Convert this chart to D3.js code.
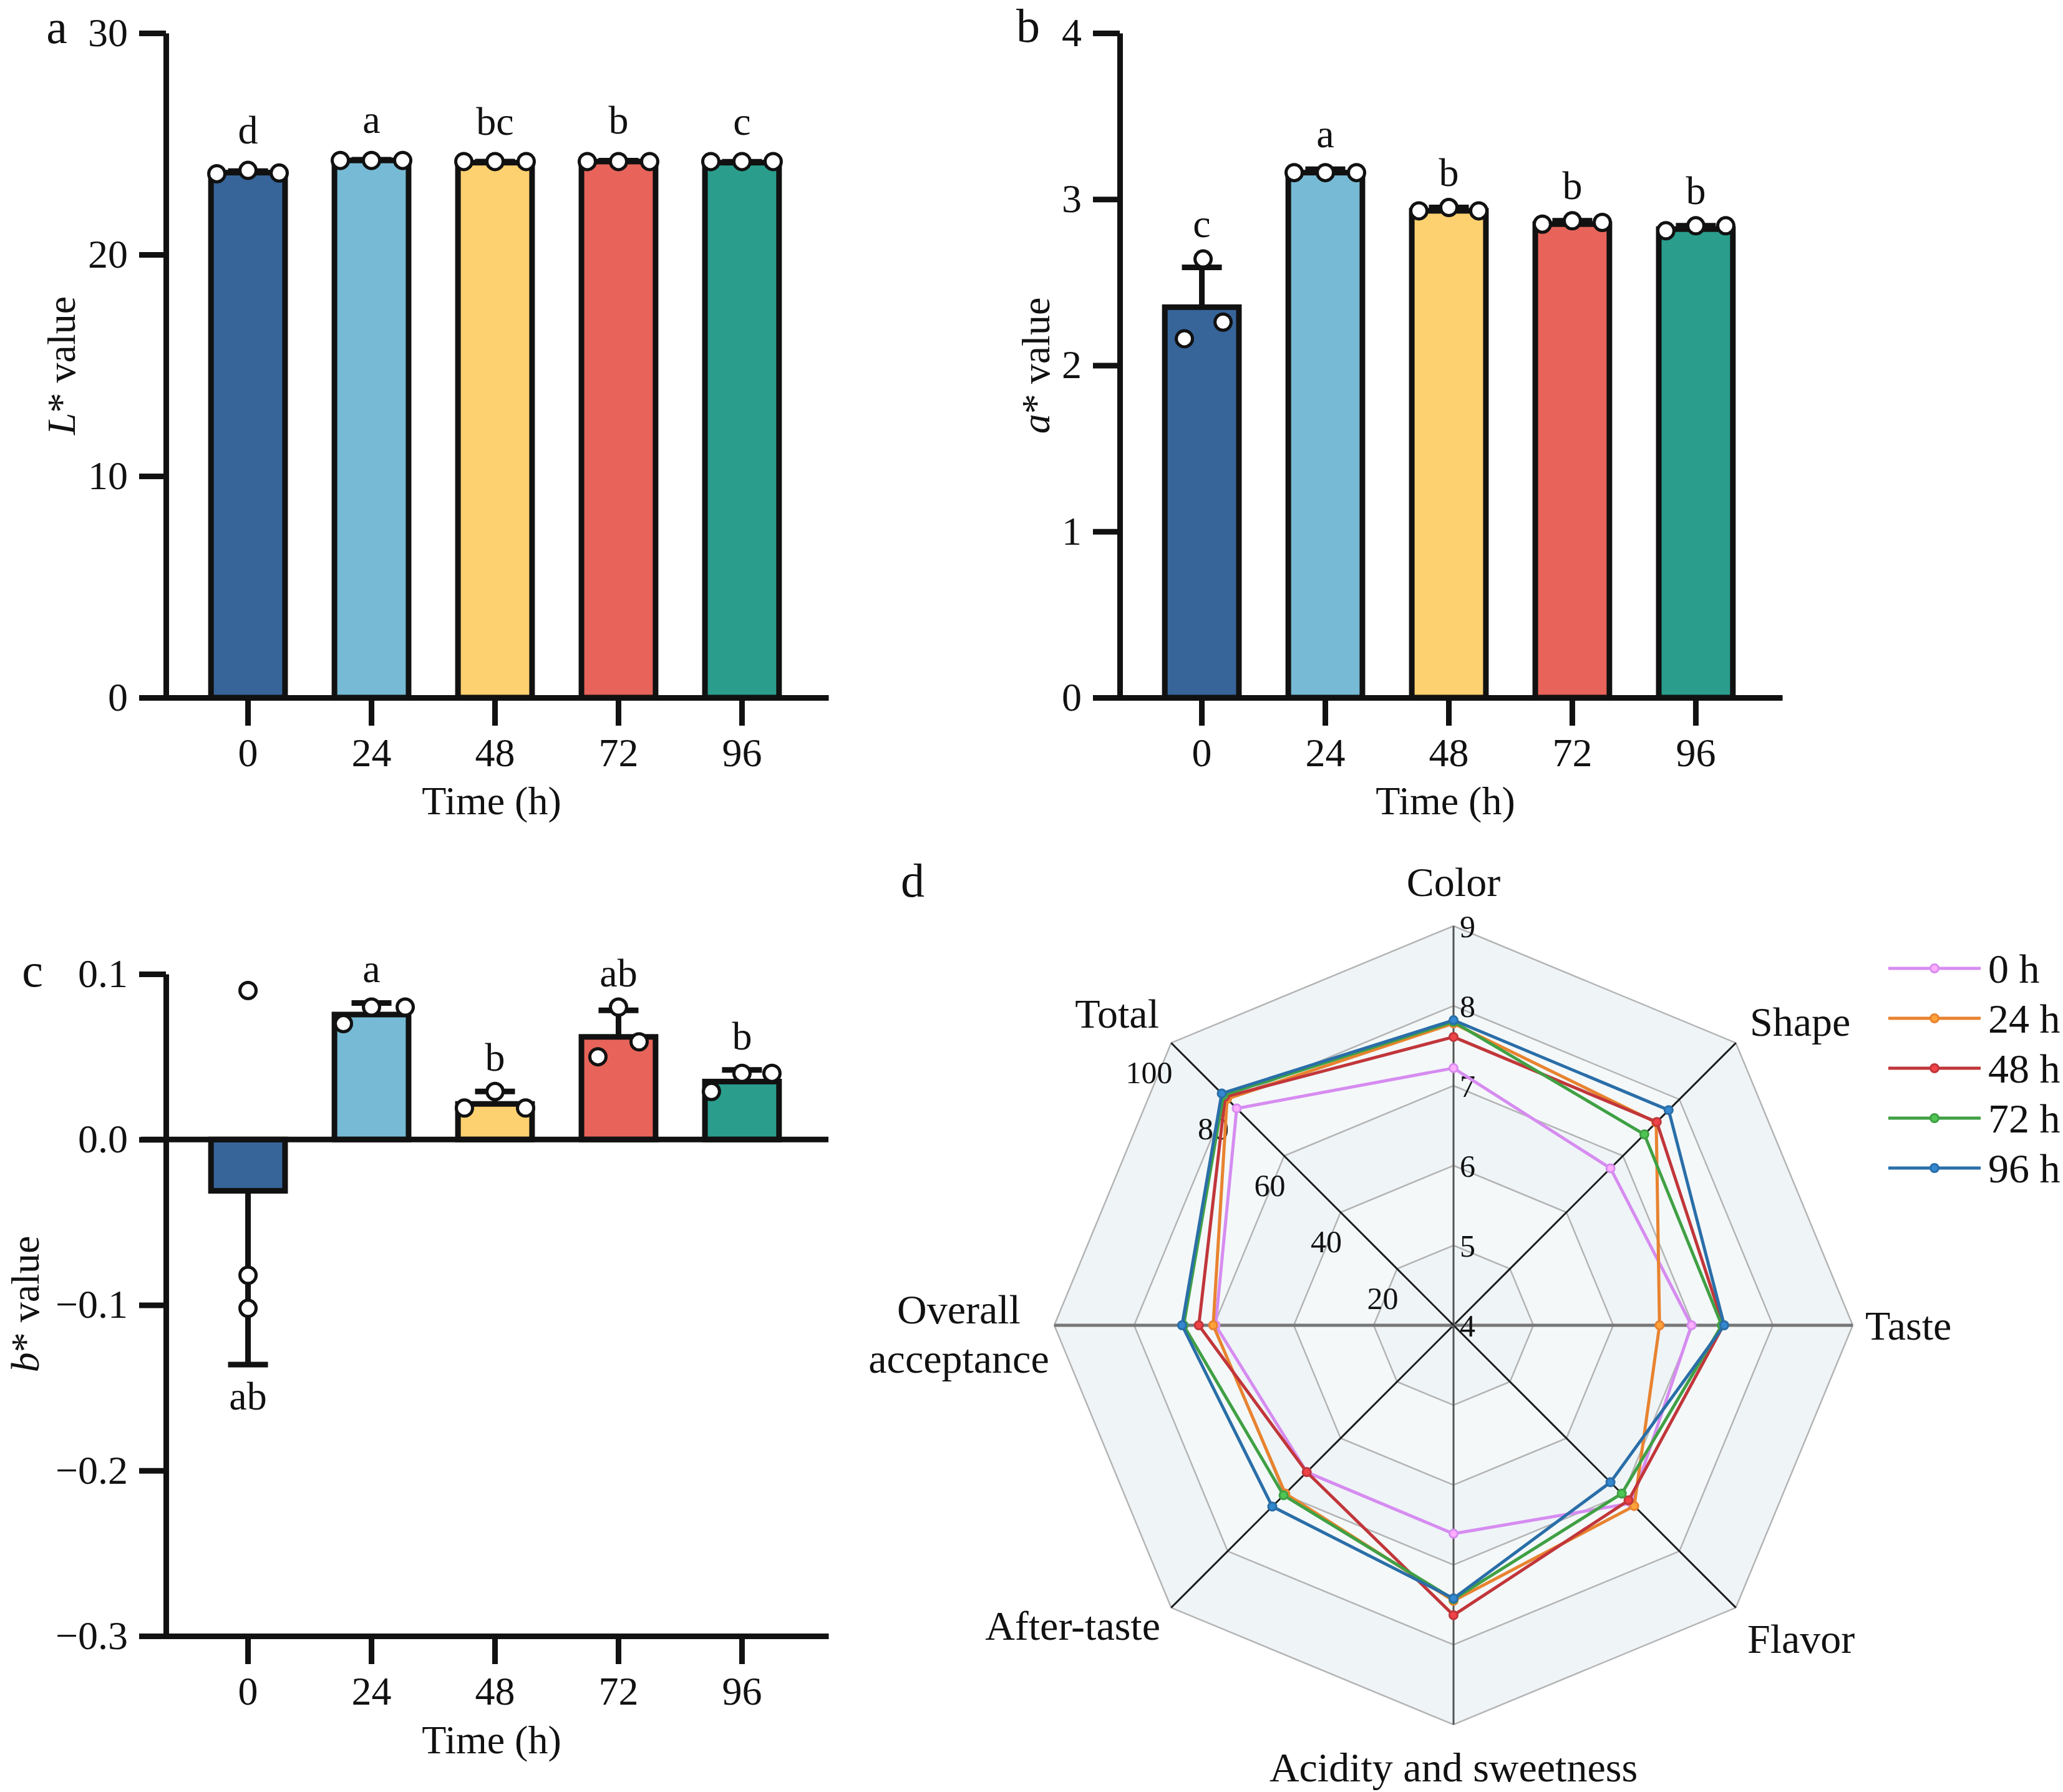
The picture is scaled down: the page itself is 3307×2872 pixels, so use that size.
<!DOCTYPE html>
<html>
<head>
<meta charset="utf-8">
<script src="https://cdn.jsdelivr.net/npm/d3@7"></script>
<style>
    body { margin: 0; background: #fff; }
</style>
</head>
<body>
<div id="chart"></div>
<script>
const W = 3307, H = 2872;
const FONT = "'Liberation Serif', Tinos, 'Times New Roman', Times, 'DejaVu Serif', serif";

// ---- shared categories ----
const times = ["0", "24", "48", "72", "96"];
const barColors = ["#37659a", "#77bad5", "#fed170", "#e8645a", "#2a9d8c"];

// ---- panel a : L* ----
const lMeans = [23.7, 24.25, 24.15, 24.2, 24.15];
const lSds = [0.07, 0.03, 0.05, 0.04, 0.04];
const lPoints = [[23.65, 23.8, 23.68], [24.25, 24.25, 24.25], [24.2, 24.2, 24.2], [24.2, 24.2, 24.2], [24.2, 24.2, 24.2]];
const lLetters = ["d", "a", "bc", "b", "c"];
const lTicks = [0, 10, 20, 30];

// ---- panel b : a* ----
const aMeans = [2.35, 3.16, 2.93, 2.85, 2.82];
const aSds = [0.24, 0.02, 0.02, 0.02, 0.02];
const aPoints = [[2.16, 2.64, 2.26], [3.16, 3.16, 3.16], [2.93, 2.95, 2.93], [2.85, 2.87, 2.86], [2.81, 2.84, 2.84]];
const aLetters = ["c", "a", "b", "b", "b"];
const aTicks = [0, 1, 2, 3, 4];

// ---- panel c : b* ----
const bMeans = [-0.031, 0.0755, 0.0215, 0.062, 0.035];
const bSds = [0.105, 0.007, 0.0075, 0.016, 0.007];
const bPoints = [[0.09, -0.082, -0.102], [0.07, 0.08, 0.08], [0.019, 0.029, 0.019], [0.05, 0.08, 0.059], [0.029, 0.04, 0.04]];
const bLetters = ["ab", "a", "b", "ab", "b"];
const bTicks = [-0.3, -0.2, -0.1, 0.0, 0.1];

// ---- panel d : radar ----
const radarAxes = ["Color", "Shape", "Taste", "Flavor", "Acidity and sweetness", "After-taste", "Overall acceptance", "Total"];
const seriesNames = ["0 h", "24 h", "48 h", "72 h", "96 h"];
const s0h  = [7.22, 6.78, 6.98, 7.15, 6.61, 6.60, 6.98, 76.8];
const s24h = [7.78, 7.59, 6.58, 7.20, 7.45, 6.98, 7.01, 80.2];
const s48h = [7.61, 7.60, 7.38, 7.10, 7.63, 6.60, 7.19, 80.9];
const s72h = [7.80, 7.38, 7.36, 6.98, 7.43, 7.01, 7.38, 81.5];
const s96h = [7.82, 7.81, 7.39, 6.78, 7.42, 7.21, 7.40, 82.1];
const scoreTicks = [4, 5, 6, 7, 8, 9];
const totalTicks = [20, 40, 60, 80, 100];
const seriesColors = ["#d68cf0", "#e8832f", "#c1363a", "#40a044", "#2a6ea8"];

// horizontal jitter of replicate dots (style only)
const jitterDefault = [[-50, 0, 50], [-50, 0, 50], [-50, 0, 50], [-50, 0, 50], [-50, 0, 50]];
const jitterB = [[-28, 2, 34], [-50, 0, 50], [-48, 0, 48], [-48, 0, 48], [-48, 0, 48]];
const jitterC = [[0, 0, 0], [-45, 0, 54], [-49, 0, 49], [-33, 0, 33], [-49, 0, 48]];

const svg = d3.select("#chart").append("svg")
    .attr("width", W).attr("height", H)
    .attr("viewBox", "0 0 " + W + " " + H)
    .attr("font-family", FONT);

svg.append("rect").attr("width", W).attr("height", H).attr("fill", "#fff");

const FS = 64;
const LW = 9;

function styleAxis(sel) {
    sel.attr("font-family", FONT);
    sel.selectAll(".domain").attr("stroke", "#111").attr("stroke-width", LW);
    sel.selectAll(".tick line").attr("stroke", "#111").attr("stroke-width", LW);
    sel.selectAll(".tick text").attr("font-size", FS).attr("fill", "#111");
}

function barPanel(cfg) {

    const g = svg.append("g");

    const x = d3.scaleBand()
        .domain(times)
        .range([cfg.ax - 7, cfg.ax + 1062])
        .padding(0.4);

    const y = d3.scaleLinear()
        .domain(cfg.domain)
        .range([cfg.bottom, cfg.top]);

    const cx = i => x(times[i]) + x.bandwidth() / 2;

    // bars
    g.selectAll(".bar")
        .data(cfg.means)
        .join("rect")
        .attr("class", "bar")
        .attr("x", (d, i) => x(times[i]))
        .attr("width", x.bandwidth())
        .attr("y", d => Math.min(y(d), y(0)))
        .attr("height", d => Math.abs(y(d) - y(0)))
        .attr("fill", (d, i) => barColors[i])
        .attr("stroke", "#111")
        .attr("stroke-width", LW);

    // error bars, drawn away from zero
    const err = g.selectAll(".err")
        .data(cfg.means)
        .join("g")
        .attr("class", "err");

    err.append("line")
        .attr("x1", (d, i) => cx(i)).attr("x2", (d, i) => cx(i))
        .attr("y1", d => y(d))
        .attr("y2", (d, i) => y(d + Math.sign(d) * cfg.sds[i]))
        .attr("stroke", "#111").attr("stroke-width", LW);

    err.append("line")
        .attr("x1", (d, i) => cx(i) - 32).attr("x2", (d, i) => cx(i) + 32)
        .attr("y1", (d, i) => y(d + Math.sign(d) * cfg.sds[i]))
        .attr("y2", (d, i) => y(d + Math.sign(d) * cfg.sds[i]))
        .attr("stroke", "#111").attr("stroke-width", LW);

    // axes
    if (cfg.zeroLine) {
        g.append("line")
            .attr("x1", cfg.ax - 40).attr("x2", cfg.ax + 1062)
            .attr("y1", y(0)).attr("y2", y(0))
            .attr("stroke", "#111").attr("stroke-width", LW);
    }

    const yAxis = g.append("g")
        .attr("transform", "translate(" + cfg.ax + ",0)")
        .call(d3.axisLeft(y).tickValues(cfg.ticks).tickFormat(cfg.format)
            .tickSize(43).tickSizeOuter(0).tickPadding(18));
    styleAxis(yAxis);

    const xAxis = g.append("g")
        .attr("transform", "translate(0," + y(cfg.domain[0]) + ")")
        .call(d3.axisBottom(x).tickSize(45).tickSizeOuter(0).tickPadding(20));
    styleAxis(xAxis);

    // replicate dots
    cfg.points.forEach((pts, i) => {
        g.selectAll(".pt" + i)
            .data(pts)
            .join("circle")
            .attr("cx", (d, j) => cx(i) + cfg.jitter[i][j])
            .attr("cy", d => y(d))
            .attr("r", 13)
            .attr("fill", "#fff")
            .attr("stroke", "#111")
            .attr("stroke-width", 5);
    });

    // significance letters
    g.selectAll(".sig")
        .data(cfg.letters)
        .join("text")
        .attr("class", "sig")
        .attr("x", (d, i) => cx(i))
        .attr("y", (d, i) => {
            const m = cfg.means[i];
            if (m < 0) {
                const lo = Math.min(m - cfg.sds[i], d3.min(cfg.points[i].filter(v => v < 0)));
                return y(lo) + 72;
            }
            const hi = Math.max(m + cfg.sds[i], d3.max(cfg.points[i]));
            return y(hi) - 13 - cfg.letterGap;
        })
        .attr("text-anchor", "middle")
        .attr("font-size", FS)
        .text(d => d);

    // axis titles
    g.append("text")
        .attr("x", cfg.ax + 522).attr("y", cfg.xTitleY)
        .attr("text-anchor", "middle")
        .attr("font-size", FS)
        .text("Time (h)");

    const yl = g.append("text")
        .attr("transform", "translate(" + cfg.yTitle[0] + "," + cfg.yTitle[1] + ") rotate(-90)")
        .attr("text-anchor", "middle")
        .attr("font-size", FS);
    yl.append("tspan").attr("font-style", "italic").text(cfg.yVar);
    yl.append("tspan").text("* value");

    g.append("text")
        .attr("x", cfg.tag[0]).attr("y", cfg.tag[1])
        .attr("text-anchor", "middle")
        .attr("font-size", 76)
        .text(cfg.tagText);
}

barPanel({
    ax: 266, top: 53, bottom: 1118, domain: [0, 30], ticks: lTicks, format: d3.format("d"),
    means: lMeans, sds: lSds, points: lPoints, letters: lLetters, jitter: jitterDefault,
    letterGap: 30, xTitleY: 1305, yTitle: [120, 586], yVar: "L", tag: [91, 69], tagText: "a"
});

barPanel({
    ax: 1795, top: 53, bottom: 1118, domain: [0, 4], ticks: aTicks, format: d3.format("d"),
    means: aMeans, sds: aSds, points: aPoints, letters: aLetters, jitter: jitterB,
    letterGap: 22, xTitleY: 1305, yTitle: [1682, 586], yVar: "a", tag: [1648, 67], tagText: "b"
});

barPanel({
    ax: 266, top: 1561, bottom: 2622, domain: [-0.3, 0.1], ticks: bTicks, format: d3.format(".1f"),
    means: bMeans, sds: bSds, points: bPoints, letters: bLetters, jitter: jitterC, zeroLine: true,
    letterGap: 20, xTitleY: 2810, yTitle: [62, 2090], yVar: "b", tag: [52, 1581], tagText: "c"
});

// ---------------- radar ----------------
const rc = { x: 2330, y: 2124, R: 640 };
const rScore = d3.scaleLinear().domain([4, 9]).range([0, rc.R]);
const rTotal = d3.scaleLinear().domain([0, 100]).range([0, rc.R]);
const nAx = radarAxes.length;
const ang = i => i * 2 * Math.PI / nAx;
const pt = (i, r) => [rc.x + r * Math.sin(ang(i)), rc.y - r * Math.cos(ang(i))];
const radiusOf = (i, v) => (radarAxes[i] === "Total" ? rTotal(v) : rScore(v));

const rg = svg.append("g");

// split areas, outermost first
const ringRadii = scoreTicks.slice(1).map(t => rScore(t)).reverse();
rg.selectAll(".ring")
    .data(ringRadii)
    .join("path")
    .attr("d", r => d3.line()(d3.range(nAx).map(i => pt(i, r))) + "Z")
    .attr("fill", (r, k) => (k % 2 === 0 ? "#eff4f7" : "#f4f8f9"))
    .attr("stroke", "#b4b4b4")
    .attr("stroke-width", 2.5);

// spokes
rg.selectAll(".spoke")
    .data(d3.range(nAx))
    .join("line")
    .attr("x1", rc.x).attr("y1", rc.y)
    .attr("x2", i => pt(i, rc.R)[0])
    .attr("y2", i => pt(i, rc.R)[1])
    .attr("stroke", i => (i % 2 === 1 ? "#1a1a1a" : (i % 4 === 2 ? "#777" : "#555")))
    .attr("stroke-width", i => (i % 4 === 2 ? 5 : 3));

// tick labels on Color axis
rg.selectAll(".ctick")
    .data(scoreTicks)
    .join("text")
    .attr("x", rc.x + 10)
    .attr("y", t => rc.y - rScore(t))
    .attr("dy", "0.35em")
    .attr("font-size", 50)
    .text(t => t);

// tick labels on Total axis
const ti = radarAxes.indexOf("Total");
rg.selectAll(".ttick")
    .data(totalTicks)
    .join("text")
    .attr("x", t => pt(ti, rTotal(t))[0] + 2)
    .attr("y", t => pt(ti, rTotal(t))[1] + 47)
    .attr("dy", "0.35em")
    .attr("text-anchor", "end")
    .attr("font-size", 50)
    .text(t => t);

// series
const seriesData = [s0h, s24h, s48h, s72h, s96h];
const radarLine = d3.line().curve(d3.curveLinearClosed);

seriesData.forEach((vals, s) => {
    const pts = vals.map((v, i) => pt(i, radiusOf(i, v)));
    rg.append("path")
        .attr("d", radarLine(pts))
        .attr("fill", "none")
        .attr("stroke", seriesColors[s])
        .attr("stroke-width", 5)
        .attr("stroke-linejoin", "round");
    rg.selectAll(".m" + s)
        .data(pts)
        .join("circle")
        .attr("cx", d => d[0]).attr("cy", d => d[1])
        .attr("r", 6.5)
        .attr("fill", d3.color(seriesColors[s]).brighter(0.6))
        .attr("stroke", seriesColors[s])
        .attr("stroke-width", 3);
});

// axis names
const axisLabelPos = [
    { x: 2330, y: 1413, a: "middle" },
    { x: 2805, y: 1637, a: "start" },
    { x: 2990, y: 2124, a: "start" },
    { x: 2801, y: 2626, a: "start" },
    { x: 2330, y: 2832, a: "middle" },
    { x: 1860, y: 2605, a: "end" },
    { x: 1537, y: 2098, a: "middle" },
    { x: 1858, y: 1624, a: "end" }
];

radarAxes.forEach((name, i) => {
    const p = axisLabelPos[i];
    const t = rg.append("text")
        .attr("x", p.x).attr("y", p.y)
        .attr("dy", "0.35em")
        .attr("text-anchor", p.a)
        .attr("font-size", 66);
    if (name === "Overall acceptance") {
        t.append("tspan").attr("x", p.x).text("Overall");
        t.append("tspan").attr("x", p.x).attr("dy", 79).text("acceptance");
    } else {
        t.text(name);
    }
});

// legend
const lg = svg.append("g").attr("transform", "translate(3027,1552)");
seriesNames.forEach((name, s) => {
    const row = lg.append("g").attr("transform", "translate(0," + s * 80 + ")");
    row.append("line")
        .attr("x1", 0).attr("x2", 148)
        .attr("stroke", seriesColors[s]).attr("stroke-width", 5);
    row.append("circle")
        .attr("cx", 74).attr("r", 6.5)
        .attr("fill", d3.color(seriesColors[s]).brighter(0.6))
        .attr("stroke", seriesColors[s]).attr("stroke-width", 3);
    row.append("text")
        .attr("x", 160).attr("dy", "0.35em")
        .attr("font-size", 66)
        .text(name);
});

svg.append("text")
    .attr("x", 1463).attr("y", 1437)
    .attr("text-anchor", "middle")
    .attr("font-size", 76)
    .text("d");

// make sure every text uses the serif face
svg.selectAll("text").style("font-family", FONT).attr("fill", "#111");
</script>
</body>
</html>
